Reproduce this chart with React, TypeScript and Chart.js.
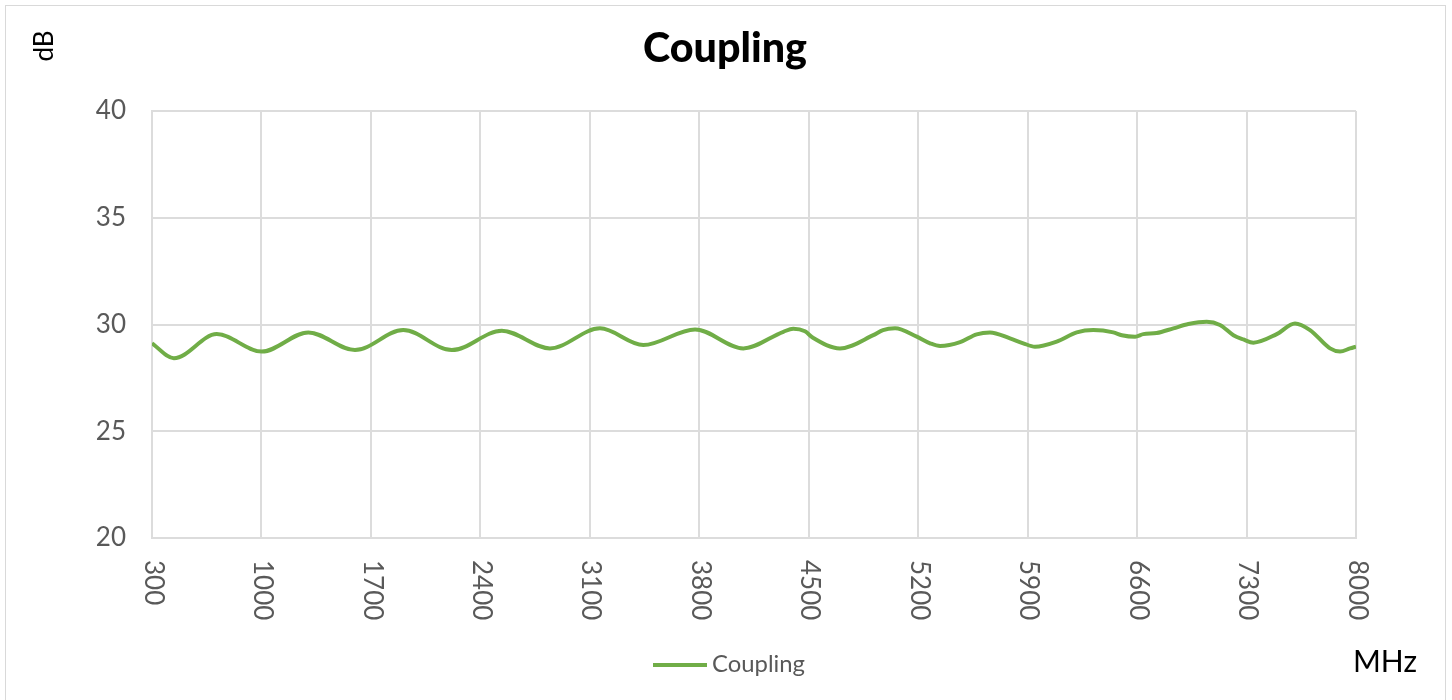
import React, { useEffect, useRef } from "react";
import { Chart, registerables } from "chart.js";

Chart.register(...registerables);

const freqMHz = [
  300, 440, 714, 1002, 1300, 1598, 1907, 2217, 2537, 2845, 3165, 3442, 3773, 4082,
  4338, 4401, 4476, 4527, 4700, 4913, 4975, 5052, 5191, 5276, 5340, 5468, 5574, 5659,
  5787, 5872, 5947, 6086, 6214, 6320, 6448, 6502, 6587, 6640, 6725, 6832, 6928, 7045,
  7130, 7216, 7280, 7344, 7493, 7610, 7706, 7834, 7898, 7962, 8000,
];
const couplingDb = [
  29.12, 28.42, 29.55, 28.73, 29.63, 28.8, 29.74, 28.8, 29.71, 28.88, 29.82, 29.04, 29.77, 28.88,
  29.66, 29.8, 29.68, 29.38, 28.88, 29.5, 29.74, 29.82, 29.43, 29.12, 28.99, 29.17, 29.54, 29.63,
  29.35, 29.12, 28.96, 29.2, 29.63, 29.74, 29.63, 29.5, 29.43, 29.55, 29.6, 29.82, 30.02, 30.13,
  29.98, 29.5, 29.3, 29.15, 29.55, 30.05, 29.74, 28.88, 28.73, 28.88, 28.96,
];
const xTickLabels = [300, 1000, 1700, 2400, 3100, 3800, 4500, 5200, 5900, 6600, 7300, 8000];
const yTickValues = [20, 25, 30, 35, 40];
const seriesName = "Coupling";
const chartTitle = "Coupling";
const yAxisTitle = "dB";
const xAxisTitle = "MHz";

const FONT = "Lato, 'DejaVu Sans', sans-serif";

function fitFont(ctx: CanvasRenderingContext2D, text: string, weight: string, target: number, base: number) {
  ctx.font = `${weight} ${base}px ${FONT}`;
  const w = ctx.measureText(text).width;
  const size = (base * target) / w;
  ctx.font = `${weight} ${size}px ${FONT}`;
}

export default function App() {
  const ref = useRef<HTMLCanvasElement>(null);

  useEffect(() => {
    if (!ref.current) return;
    const deco = {
      id: "deco",
      beforeDraw(chart: any) {
        const ctx = chart.ctx;
        ctx.save();
        ctx.fillStyle = "#ffffff";
        ctx.fillRect(0, 0, chart.width, chart.height);
        ctx.strokeStyle = "#d9d9d9";
        ctx.lineWidth = 1;
        ctx.strokeRect(5.5, 5.5, 1440, 720);
        ctx.restore();
      },
      afterDraw(chart: any) {
        const ctx = chart.ctx;
        const xs = chart.scales.x;
        const area = chart.chartArea;
        ctx.save();
        // x tick labels, rotated clockwise
        ctx.fillStyle = "#595959";
        ctx.font = `26px ${FONT}`;
        ctx.textAlign = "left";
        ctx.textBaseline = "middle";
        xTickLabels.forEach((v) => {
          const px = xs.getPixelForValue(v);
          ctx.save();
          ctx.translate(px + 1, area.bottom + 22);
          ctx.rotate(Math.PI / 2);
          ctx.fillText(String(v), 0, 0);
          ctx.restore();
        });
        // title
        ctx.fillStyle = "#000000";
        fitFont(ctx, chartTitle, "900", 164, 34);
        ctx.textAlign = "center";
        ctx.textBaseline = "middle";
        ctx.fillText(chartTitle, 725, 49);
        // y axis title
        ctx.font = `26px ${FONT}`;
        ctx.save();
        ctx.translate(45, 46);
        ctx.rotate(-Math.PI / 2);
        ctx.fillText(yAxisTitle, 0, 0);
        ctx.restore();
        // x axis title
        fitFont(ctx, xAxisTitle, "normal", 64, 26);
        ctx.fillText(xAxisTitle, 1385, 662);
        // legend
        ctx.strokeStyle = "#70ad47";
        ctx.lineWidth = 4;
        ctx.beginPath();
        ctx.moveTo(653, 665);
        ctx.lineTo(707, 665);
        ctx.stroke();
        ctx.fillStyle = "#595959";
        fitFont(ctx, seriesName, "normal", 93, 21);
        ctx.textAlign = "left";
        ctx.fillText(seriesName, 712, 664);
        ctx.restore();
      },
    };

    const chart = new Chart(ref.current, {
      type: "line",
      data: {
        datasets: [
          {
            label: seriesName,
            data: freqMHz.map((f, i) => ({ x: f, y: couplingDb[i] })),
            borderColor: "#70ad47",
            borderWidth: 4,
            pointRadius: 0,
            fill: false,
            cubicInterpolationMode: "monotone",
          },
        ],
      },
      options: {
        responsive: false,
        animation: false,
        devicePixelRatio: 1,
        layout: { padding: { left: 0, top: 111, right: 96, bottom: 0 } },
        plugins: { legend: { display: false }, title: { display: false }, tooltip: { enabled: false } },
        scales: {
          x: {
            type: "linear",
            min: 300,
            max: 8000,
            afterBuildTicks: (s: any) => {
              s.ticks = xTickLabels.map((v) => ({ value: v }));
            },
            afterFit: (s: any) => {
              s.height = 162;
            },
            ticks: { display: false },
            grid: { color: "#dcdcdc", lineWidth: 2, drawTicks: false },
            border: { color: "#dcdcdc", width: 2 },
          },
          y: {
            min: 20,
            max: 40,
            afterBuildTicks: (s: any) => {
              s.ticks = yTickValues.map((v) => ({ value: v }));
            },
            afterFit: (s: any) => {
              s.width = 152;
            },
            ticks: { color: "#595959", font: { size: 26, family: FONT }, padding: 26 },
            grid: { color: "#dcdcdc", lineWidth: 2, drawTicks: false },
            border: { color: "#dcdcdc", width: 2 },
          },
        },
      },
      plugins: [deco],
    } as any);
    return () => chart.destroy();
  }, []);

  return (
    <div style={{ position: "fixed", left: 0, top: 0, width: 1452, height: 700 }}>
      <canvas ref={ref} width={1452} height={700} style={{ display: "block" }} />
    </div>
  );
}
